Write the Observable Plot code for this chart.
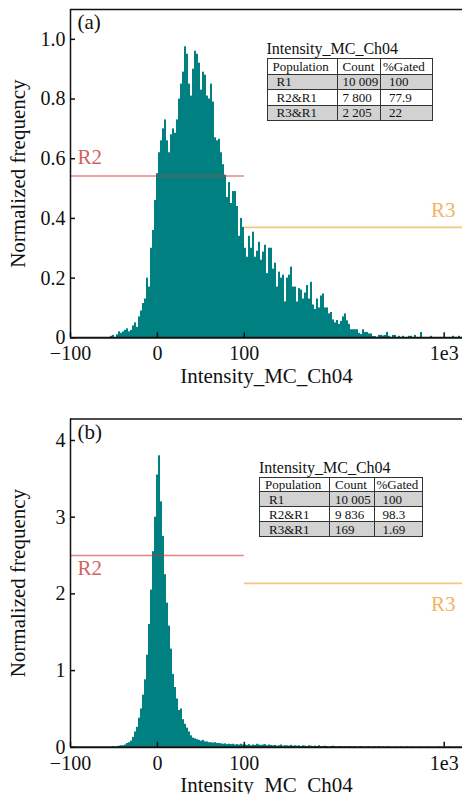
<!DOCTYPE html>
<html><head><meta charset="utf-8">
<script src="https://cdn.jsdelivr.net/npm/d3@7"></script>
<script src="https://cdn.jsdelivr.net/npm/@observablehq/plot@0.6"></script>
<style>
body{margin:0;background:#fff;font-family:"Liberation Serif","Times New Roman",serif;}
#wrap{position:relative;width:462px;height:794px;overflow:hidden;background:#fff;}
.panel{position:absolute;left:0;}
.stats{position:absolute;font-family:"Liberation Serif","Times New Roman",serif;color:#111;}
.stats .ttl{font-size:16px;line-height:16px;white-space:nowrap;}
.stats table{border-collapse:collapse;table-layout:fixed;font-size:13px;margin-top:1px;}
.stats td{border:1.5px solid #333;padding:0 0 0 5px;line-height:13px;white-space:nowrap;overflow:hidden;}
.stats tr.g td{background:#d2d2d2;}
.stats td.c0{padding-left:9px;}
.stats tr.h td.c0{padding-left:5px;}
.stats td.c2{padding-left:8px;}
.stats tr.h td.c2{padding-left:2px;}
</style></head><body><div id="wrap"></div>
<script>
// ---------- data ----------
const xTickValues = [-100, 0, 100, 1000];
const xTickLabels = ["\u2212100", "0", "100", "1e3"];
const xAxisLabel = "Intensity_MC_Ch04";
const yAxisLabel = "Normalized frequency";
const panelTags = ["(a)", "(b)"];
const yTicksA = [0, 0.2, 0.4, 0.6, 0.8, 1.0];
const yTicksB = [0, 1, 2, 3, 4];

// histogram heights, bins equally spaced on the display (symlog) axis from -100 to ~1.2e3
const freqA = [
0,0,0,0,0,0,0,0,0,0,0,0,0,0,0,0,0,0,0,0,
0.005,0.008,0,0.01,0.02,0.015,0.02,0.025,0.03,0.02,0.025,0.04,0.05,0.035,0.07,0.09,0.115,0.13,0.2,0.17,
0.30,0.36,0.46,0.55,0.62,0.66,0.70,0.73,0.66,0.62,0.68,0.70,0.685,0.73,0.80,0.85,0.89,0.975,0.95,0.85,
0.81,0.90,0.96,0.95,0.92,0.83,0.89,0.88,0.81,0.80,0.85,0.79,0.67,0.66,0.665,0.62,0.58,0.545,0.47,0.52,
0.45,0.49,0.49,0.44,0.34,0.40,0.37,0.30,0.27,0.34,0.30,0.354,0.27,0.29,0.32,0.26,0.287,0.31,0.215,0.30,
0.30,0.23,0.25,0.17,0.22,0.20,0.21,0.12,0.20,0.21,0.237,0.17,0.17,0.12,0.165,0.16,0.13,0.15,0.175,0.13,
0.186,0.11,0.095,0.13,0.10,0.14,0.147,0.10,0.10,0.08,0.085,0.06,0.05,0.058,0.045,0.055,0.07,0.08,0.057,0.045,
0.027,0.027,0.027,0.027,0.015,0.011,0.027,0.018,0.018,0.013,0.013,0.004,0.004,0,0.008,0.008,0.006,0.008,0.018,0.005,
0,0.008,0.008,0,0.005,0,0.005,0,0,0.005,0.005,0,0.008,0,0,0.018,0,0,0,0,
0.005,0,0,0,0,0,0,0,0,0,0,0.005,0,0,0.005,0
];
const freqB = [
0,0,0,0,0,0,0,0,0,0,0,0,0,0,0,0,0,0,0,0,
0,0.01,0,0.01,0.015,0.02,0.02,0.03,0.05,0.06,0.08,0.13,0.2,0.26,0.38,0.50,0.68,0.88,1.2,1.6,
2.05,2.55,3.0,3.55,3.80,3.2,2.75,2.25,1.88,1.58,1.28,0.95,0.78,0.63,0.48,0.5,0.36,0.3,0.25,0.2,
0.15,0.12,0.11,0.1,0.09,0.08,0.09,0.07,0.07,0.06,0.06,0.055,0.06,0.05,0.05,0.045,0.04,0.045,0.035,0.04,
0.035,0.04,0.03,0.035,0.03,0.04,0.03,0.03,0.025,0.035,0.02,0.03,0.025,0.04,0.03,0.025,0.03,0.035,0.02,0.03,
0.025,0.02,0.025,0.015,0.02,0.03,0.015,0.02,0.02,0.015,0.025,0.015,0.02,0.015,0.02,0.01,0.02,0.015,0.01,0.02,
0.015,0.01,0.015,0.01,0.02,0.01,0.01,0.015,0.01,0.005,0.01,0.015,0.01,0.005,0.01,0.01,0.005,0.01,0.005,0.01,
0.005,0.005,0.01,0,0.005,0.01,0.005,0,0.005,0.01,0,0.005,0.005,0,0.01,0,0.005,0,0.005,0.005,
0,0,0.005,0,0,0.005,0,0,0.005,0,0,0.005,0,0,0,0.005,0,0,0,0.005,
0,0,0,0,0.005,0,0,0,0,0.005,0,0,0,0,0,0
];

// gates
const gateNames = ["R2", "R3"];
const gateLo = [-100, 100];
const gateHi = [100, 1190];
const gateLevelsA = [0.542, 0.37];
const gateLevelsB = [2.5, 2.137];

// statistics tables
const statTitle = "Intensity_MC_Ch04";
const statHeader = ["Population", "Count", "%Gated"];
const populations = ["R1", "R2&R1", "R3&R1"];
const countsA = ["10 009", "7 800", "2 205"];
const gatedA = ["100", "77.9", "22"];
const countsB = ["10 005", "9 836", "169"];
const gatedB = ["100", "98.3", "1.69"];

// ---------- scale / bins ----------
const C = 87, xMin = -100, xMax = 1190, binCount = 196;
const fwd = x => Math.sign(x) * Math.log1p(Math.abs(x) / C);
const inv = t => Math.sign(t) * C * Math.expm1(Math.abs(t));
const t0 = fwd(xMin), t1 = fwd(xMax), bw = (t1 - t0) / binCount;
const toBins = freq => freq.map((v, i) => ({x1: inv(t0 + i * bw), x2: inv(t0 + (i + 1) * bw), y: v}));

const TEAL = "#008080";
const INK = "#111";
const FONT = "'Liberation Serif','Times New Roman',serif";

function makePanel({freq, yMax, yTicks, yFmt, levels, tag, height, mt, mb, labelDy}) {
  const g = gateNames.map((n, i) => ({name: n, lo: gateLo[i], hi: gateHi[i], level: levels[i]}));
  return Plot.plot({
    width: 462, height, marginLeft: 70, marginRight: 0, marginTop: mt, marginBottom: mb,
    style: {fontFamily: FONT, fontSize: "20px", color: INK, background: "white", overflow: "visible"},
    x: {type: "symlog", constant: C, domain: [xMin, xMax]},
    y: {domain: [0, yMax]},
    marks: [
      Plot.rectY(toBins(freq), {x1: "x1", x2: "x2", y: "y", fill: TEAL}),
      Plot.ruleY([g[0]], {y: "level", x1: "lo", x2: "hi", stroke: "#d43333", strokeOpacity: 0.6, strokeWidth: 1.6}),
      Plot.ruleY([g[1]], {y: "level", x1: "lo", x2: "hi", stroke: "#f0a030", strokeOpacity: 0.6, strokeWidth: 1.6}),
      Plot.text([g[0]], {x: "lo", y: "level", text: "name", textAnchor: "start", lineAnchor: "middle", dx: 7, dy: labelDy[0], fill: "#d06464", fontSize: 21}),
      Plot.text([g[1]], {x: "hi", y: "level", text: "name", textAnchor: "end", lineAnchor: "middle", dx: -7, dy: labelDy[1], fill: "#f2b466", fontSize: 21}),
      Plot.ruleY([yMax], {stroke: INK, strokeWidth: 1.5}),
      Plot.ruleX([xMin], {stroke: INK, strokeWidth: 1.5}),
      Plot.ruleY([0], {stroke: INK, strokeWidth: 2}),
      Plot.axisX({ticks: xTickValues, tickSize: -5, tickPadding: 13, tickFormat: d => xTickLabels[xTickValues.indexOf(d)], label: null, fontSize: 20, strokeWidth: 1.5}),
      Plot.axisY({ticks: yTicks, tickSize: -5, tickPadding: 10, tickFormat: yFmt, label: null, fontSize: 20, strokeWidth: 1.5}),
      Plot.text([xAxisLabel], {text: d => d, frameAnchor: "bottom", textAnchor: "middle", lineAnchor: "middle", dy: 38, fontSize: 21}),
      Plot.text([yAxisLabel], {text: d => d, frameAnchor: "left", textAnchor: "middle", lineAnchor: "middle", rotate: -90, dx: -52, fontSize: 21}),
      Plot.text([tag], {text: d => d, frameAnchor: "top-left", textAnchor: "start", lineAnchor: "top", dx: 7, dy: 5, fontSize: 21})
    ]
  });
}

function makeTable(counts, gated, left, top, colW, rowH) {
  const div = document.createElement("div");
  div.className = "stats";
  div.style.left = left + "px";
  div.style.top = top + "px";
  const t = document.createElement("div");
  t.className = "ttl";
  t.textContent = statTitle;
  div.appendChild(t);
  const table = document.createElement("table");
  table.style.width = colW.reduce((a, b) => a + b, 0) + "px";
  const cg = document.createElement("colgroup");
  colW.forEach(w => { const c = document.createElement("col"); c.style.width = w + "px"; cg.appendChild(c); });
  table.appendChild(cg);
  const rows = [statHeader].concat(populations.map((p, i) => [p, counts[i], gated[i]]));
  rows.forEach((r, ri) => {
    const tr = document.createElement("tr");
    tr.className = ri === 0 ? "h" : (ri % 2 === 1 ? "g" : "w");
    r.forEach((v, ci) => {
      const td = document.createElement("td");
      td.className = "c" + ci;
      td.style.height = (rowH - 1.5) + "px";
      td.textContent = v;
      tr.appendChild(td);
    });
    table.appendChild(tr);
  });
  div.appendChild(table);
  return div;
}

const wrap = document.getElementById("wrap");
const pa = makePanel({freq: freqA, yMax: 1.1, yTicks: yTicksA, yFmt: d => d === 0 ? "0" : d.toFixed(1),
  levels: gateLevelsA, tag: panelTags[0], height: 400, mt: 9, mb: 62.7, labelDy: [-18.4, -16.7]});
const da = document.createElement("div"); da.className = "panel"; da.style.top = "0px"; da.appendChild(pa); wrap.appendChild(da);

const pb = makePanel({freq: freqB, yMax: 4.28, yTicks: yTicksB, yFmt: d => String(d),
  levels: gateLevelsB, tag: panelTags[1], height: 385, mt: 9.5, mb: 47.2, labelDy: [12.6, 20.6]});
const db = document.createElement("div"); db.className = "panel"; db.style.top = "409px"; db.appendChild(pb); wrap.appendChild(db);

wrap.appendChild(makeTable(countsA, gatedA, 266.5, 41, [70, 43.5, 52], 16));
wrap.appendChild(makeTable(countsB, gatedB, 259, 459.5, [70, 44.5, 48], 15.4));
</script></body></html>
